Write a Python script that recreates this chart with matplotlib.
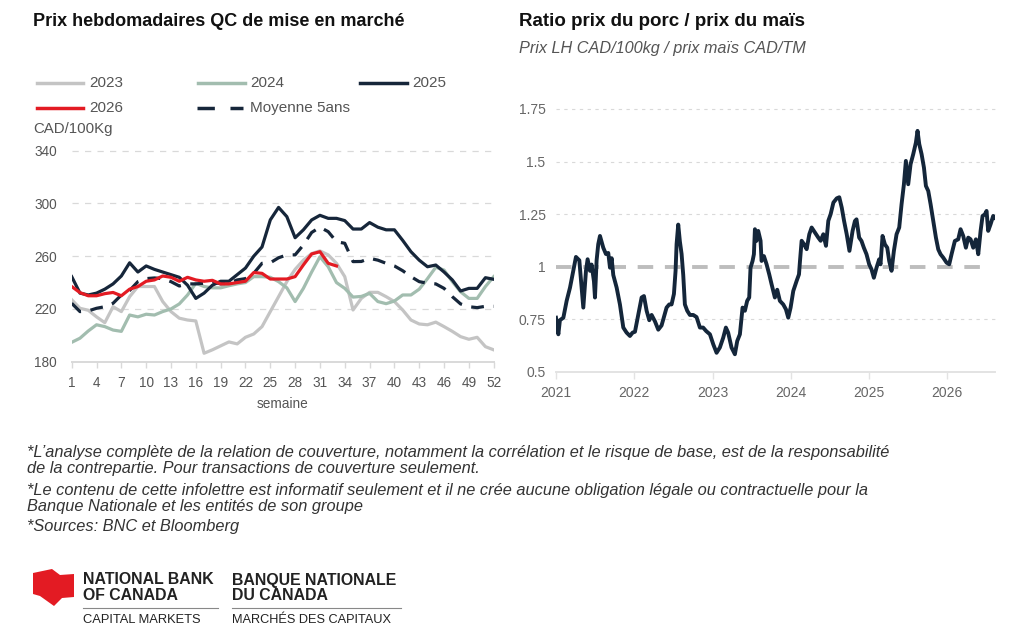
import matplotlib
matplotlib.use("Agg")
import matplotlib.pyplot as plt
from matplotlib.lines import Line2D
from matplotlib.patches import Polygon
from matplotlib import font_manager

# ---------------- data ----------------
weeks = list(range(1, 53))
y2023 = [227, 220.5, 219, 214, 209.6, 221.7, 218, 229.3, 237, 237, 237, 225.6, 218, 213, 211.6, 210.9,
         186.4, 189, 192, 195, 193.5, 198.5, 201, 206.6, 218, 229.3, 240.7, 250, 257, 262, 264, 261,
         254.6, 244.5, 219.2, 228, 232.6, 232.6, 229.3, 225.6, 219.2, 211.6, 208.6, 208, 210, 206.6,
         203, 199, 197, 198.5, 191.4, 189]
y2024 = [194.7, 197.8, 203.3, 208, 206.6, 204, 203, 215.4, 214, 216, 215.4, 218, 220, 223.8, 230.6, 239.5,
         237, 236, 236, 237.6, 239, 240, 244.5, 244.5, 244, 240.7, 236, 225.6, 235.6, 248, 259.6, 252,
         240, 235.6, 229, 229.5, 231.8, 225.6, 224, 226, 230.6, 230.6, 235, 243, 251.6, 249.5, 240.7,
         233, 228, 228, 237, 244.5]
y2025 = [244.5, 232, 230.6, 232, 235, 239, 245, 255, 248, 252.6, 250, 248, 246, 244, 238, 228, 232, 238,
         241, 241, 246, 251, 260, 267, 287.5, 297, 290, 274, 280, 287.5, 291, 288.7, 288.7, 287, 280.6,
         280.6, 285.5, 282, 280, 280, 272, 263.4, 257, 252, 253.3, 248, 242, 233.6, 235.6, 235.6, 243.7,
         242.5]
weeks2026 = list(range(1, 34))
y2026 = [237, 232.4, 230, 230, 231.6, 232.5, 230, 235, 237, 241, 242, 245, 244, 241, 244, 242, 241, 241.7,
         239, 239, 240, 241, 247.6, 247, 242.7, 242.7, 242.7, 244.5, 253.4, 261.7, 263.4, 254.6, 252.6]
moy5 = [224.3, 218, 218.5, 220.5, 221.7, 224.3, 230.6, 234, 240.7, 243, 243.5, 243, 240.7, 237.4, 239, 239,
        239.5, 240.7, 239, 239.5, 242, 243, 247, 254.6, 255, 258.8, 261, 261, 268.5, 278, 282, 278.6, 271,
        269.8, 255.9, 256, 258.4, 257, 254.6, 252.6, 249, 244.5, 240.7, 239.5, 239, 235.6, 229.3, 223.8,
        221.7, 221, 222, 222]

# ratio (decimal year, value), read in three stretches
ratio_t_a = [2021.000, 2021.030, 2021.050, 2021.094, 2021.136, 2021.179, 2021.221, 2021.255, 2021.298, 2021.328,
             2021.349, 2021.383, 2021.404, 2021.434, 2021.455, 2021.485, 2021.498, 2021.519, 2021.540, 2021.562,
             2021.604, 2021.638, 2021.668, 2021.690, 2021.711, 2021.732, 2021.775, 2021.817, 2021.860, 2021.902,
             2021.945, 2021.979, 2022.009, 2022.051, 2022.094, 2022.124, 2022.158, 2022.192, 2022.222, 2022.264,
             2022.307, 2022.349, 2022.413, 2022.447, 2022.477, 2022.507, 2022.528, 2022.541, 2022.562, 2022.583,
             2022.605, 2022.626, 2022.647, 2022.677, 2022.711, 2022.754, 2022.796, 2022.839]
ratio_v_a = [0.757, 0.678, 0.745, 0.757, 0.837, 0.90, 0.98, 1.046, 1.03, 0.90,
             0.805, 0.98, 1.035, 0.98, 1.01, 0.93, 0.853, 1.03, 1.107, 1.146,
             1.09, 1.06, 1.065, 0.995, 1.04, 0.96, 0.90, 0.82, 0.71, 0.686,
             0.67, 0.686, 0.69, 0.77, 0.853, 0.86, 0.79, 0.745, 0.77, 0.74,
             0.70, 0.72, 0.805, 0.82, 0.82, 0.87, 0.98, 1.107, 1.20, 1.12,
             1.06, 0.96, 0.82, 0.79, 0.77, 0.77, 0.76, 0.71]
ratio_t_b = [2022.880, 2022.920, 2022.967, 2023.010, 2023.052, 2023.094, 2023.137, 2023.171, 2023.200, 2023.243,
             2023.286, 2023.316, 2023.350, 2023.384, 2023.414, 2023.443, 2023.469, 2023.486, 2023.512, 2023.529,
             2023.542, 2023.563, 2023.584, 2023.614, 2023.627, 2023.657, 2023.691, 2023.725, 2023.755, 2023.797,
             2023.827, 2023.861, 2023.904, 2023.938, 2023.968, 2023.998, 2024.032, 2024.075, 2024.105, 2024.118,
             2024.139, 2024.169, 2024.203, 2024.237, 2024.267, 2024.310, 2024.352, 2024.382, 2024.416, 2024.450,
             2024.480, 2024.510, 2024.545, 2024.588, 2024.620, 2024.652, 2024.681, 2024.715, 2024.750]
ratio_v_b = [0.71, 0.693, 0.678, 0.63, 0.59, 0.615, 0.662, 0.71, 0.686, 0.615,
             0.583, 0.646, 0.678, 0.805, 0.79, 0.837, 0.853, 0.995, 1.027, 1.059,
             1.178, 1.123, 1.17, 1.123, 1.027, 1.05, 1.011, 0.963, 0.916, 0.853,
             0.89, 0.837, 0.82, 0.797, 0.757, 0.805, 0.884, 0.932, 0.963, 1.027,
             1.123, 1.107, 1.083, 1.154, 1.186, 1.162, 1.138, 1.123, 1.154, 1.099,
             1.218, 1.25, 1.305, 1.325, 1.33, 1.28, 1.218, 1.154, 1.075]
ratio_t_c = [2024.790, 2024.820, 2024.840, 2024.874, 2024.904, 2024.934, 2024.968, 2025.002, 2025.032, 2025.062,
             2025.096, 2025.130, 2025.147, 2025.173, 2025.203, 2025.233, 2025.258, 2025.288, 2025.318, 2025.352,
             2025.386, 2025.416, 2025.446, 2025.471, 2025.501, 2025.531, 2025.565, 2025.599, 2025.620, 2025.642,
             2025.672, 2025.702, 2025.727, 2025.757, 2025.787, 2025.821, 2025.855, 2025.885, 2025.914, 2025.948,
             2025.991, 2026.025, 2026.055, 2026.097, 2026.140, 2026.170, 2026.204, 2026.238, 2026.268, 2026.298,
             2026.332, 2026.366, 2026.396, 2026.426, 2026.451, 2026.481, 2026.502, 2026.523, 2026.553, 2026.587,
             2026.605]
ratio_v_c = [1.17, 1.217, 1.225, 1.138, 1.122, 1.09, 1.059, 1.011, 0.987, 0.947,
             0.995, 1.035, 1.011, 1.146, 1.106, 1.09, 1.027, 0.98, 1.075, 1.154,
             1.186, 1.297, 1.392, 1.503, 1.392, 1.487, 1.535, 1.59, 1.646, 1.583,
             1.535, 1.471, 1.384, 1.36, 1.297, 1.217, 1.138, 1.082, 1.059, 1.043,
             1.019, 1.011, 1.059, 1.122, 1.13, 1.178, 1.146, 1.09, 1.138, 1.13,
             1.09, 1.13, 1.059, 1.17, 1.241, 1.249, 1.265, 1.17, 1.201, 1.241,
             1.233]
ratio_t = ratio_t_a + ratio_t_b + ratio_t_c
ratio_v = ratio_v_a + ratio_v_b + ratio_v_c

left_yticks = [180, 220, 260, 300, 340]
left_xticks = list(range(1, 53, 3))
right_yticks = [0.5, 0.75, 1.0, 1.25, 1.5, 1.75]
right_ytick_labels = ["0.5", "0.75", "1", "1.25", "1.5", "1.75"]
right_xticks = [2021, 2022, 2023, 2024, 2025, 2026]

# ---------------- style ----------------
names = {f.name for f in font_manager.fontManager.ttflist}
BASE = "Liberation Sans" if "Liberation Sans" in names else "DejaVu Sans"
NARROW = "Liberation Sans Narrow" if "Liberation Sans Narrow" in names else BASE
plt.rcParams['font.family'] = [BASE, 'DejaVu Sans']

C23 = "#c4c4c4"
C24 = "#a2bdaf"
C25 = "#16263a"
C26 = "#e31b23"
GRID = "#d9d9d9"
TXT = "#555555"

W, H = 1024, 633
fig = plt.figure(figsize=(W / 100, H / 100), dpi=100)
fig.patch.set_facecolor("white")

def fx(px):
    return px / W

def fy(py):
    return 1 - py / H

# ---------------- left chart ----------------
axL = fig.add_axes([fx(71.7), fy(361.7), fx(493.7 - 71.7), (361.7 - 150.7) / H])
axL.set_xlim(1, 52)
axL.set_ylim(180, 340)
lw = 2.3
axL.plot(weeks, y2023, color=C23, lw=lw, solid_joinstyle="round", zorder=2)
axL.plot(weeks, y2024, color=C24, lw=lw, solid_joinstyle="round", zorder=3)
axL.plot(weeks, moy5, color=C25, lw=lw, dashes=(4, 3), dash_capstyle="butt", zorder=4)
axL.plot(weeks, y2025, color=C25, lw=lw, solid_joinstyle="round", zorder=5)
axL.plot(weeks2026, y2026, color=C26, lw=lw, solid_joinstyle="round", zorder=6)

axL.set_yticks(left_yticks)
axL.set_xticks(left_xticks)
for v in left_yticks[1:]:
    axL.axhline(v, color=GRID, lw=0.9, dashes=(5, 5), zorder=0, clip_on=False)
for s in ["left", "right", "top"]:
    axL.spines[s].set_visible(False)
axL.spines["bottom"].set_color(GRID)
axL.spines["bottom"].set_linewidth(1.4)
axL.tick_params(axis="y", length=0, pad=10.5, labelsize=9.8, labelcolor=TXT)
axL.tick_params(axis="x", length=4, width=1, color=GRID, pad=6, labelsize=9.8, labelcolor=TXT)
axL.set_xlabel("semaine", fontsize=9.8, color=TXT, labelpad=5)

# legend (manual)
def leg_line(x0, x1, y, color, dashed=False):
    kw = dict(color=color, lw=2.5, transform=fig.transFigure)
    if dashed:
        kw["dashes"] = (5, 4.5)
        kw["dash_capstyle"] = "butt"
    fig.add_artist(Line2D([fx(x0), fx(x1)], [fy(y), fy(y)], **kw))

LF = 11
leg_line(37, 83, 83, C23); fig.text(fx(89), fy(83), "2023", fontsize=LF, color=TXT, va="center")
leg_line(198, 245, 83, C24); fig.text(fx(250), fy(83), "2024", fontsize=LF, color=TXT, va="center")
leg_line(360, 407, 83, C25); fig.text(fx(412), fy(83), "2025", fontsize=LF, color=TXT, va="center")
leg_line(37, 83, 108, C26); fig.text(fx(89), fy(108), "2026", fontsize=LF, color=TXT, va="center")
leg_line(197, 243, 108, C25, dashed=True); fig.text(fx(250), fy(108), "Moyenne 5ans", fontsize=LF, color=TXT, va="center")
fig.text(fx(33), fy(129), "CAD/100Kg", fontsize=10.8, color=TXT, va="center")

fig.text(fx(33), fy(22), "Prix hebdomadaires QC de mise en marché", fontsize=13,
         fontweight="bold", color="#111111", va="center")

# ---------------- right chart ----------------
axR = fig.add_axes([fx(556), fy(371.7), fx(995 - 556), (371.7 - 109) / H])
axR.set_xlim(2021, 2026.61)
axR.set_ylim(0.5, 1.75)
for v in [0.75, 1.25, 1.5, 1.75]:
    axR.axhline(v, color=GRID, lw=0.8, dashes=(3, 4), zorder=0, clip_on=False)
axR.hlines(1.0, 2021, 2026.47, color="#bdbdbd", lw=2.8, linestyles=(0, (4, 3)), zorder=1)
axR.plot(ratio_t, ratio_v, color="#14263a", lw=2.8, solid_joinstyle="round", zorder=3)
axR.set_yticks(right_yticks)
axR.set_yticklabels(right_ytick_labels)
axR.set_xticks(right_xticks)
for s in ["left", "right", "top"]:
    axR.spines[s].set_visible(False)
axR.spines["bottom"].set_color("#e3e3e3")
axR.spines["bottom"].set_linewidth(1.4)
axR.tick_params(axis="y", length=0, pad=7.5, labelsize=10, labelcolor="#666666")
axR.tick_params(axis="x", length=5, width=1, color="#e3e3e3", pad=5, labelsize=10, labelcolor="#666666")
for lab in axR.get_xticklabels() + axR.get_yticklabels():
    lab.set_family([NARROW, "DejaVu Sans"])

fig.text(fx(519), fy(22), "Ratio prix du porc / prix du maïs", fontsize=13.5,
         fontweight="bold", color="#111111", va="center")
fig.text(fx(519), fy(49), "Prix LH CAD/100kg / prix maïs CAD/TM", fontsize=11.7,
         fontstyle="italic", color=TXT, va="center")

# ---------------- footer ----------------
foot = [
    (452, "*L’analyse complète de la relation de couverture, notamment la corrélation et le risque de base, est de la responsabilité"),
    (469, "de la contrepartie. Pour transactions de couverture seulement."),
    (490, "*Le contenu de cette infolettre est informatif seulement et il ne crée aucune obligation légale ou contractuelle pour la"),
    (507, "Banque Nationale et les entités de son groupe"),
    (526, "*Sources: BNC et Bloomberg"),
]
for yy, t in foot:
    fig.text(fx(27), fy(yy), t, fontsize=11.8, fontstyle="italic", color="#333333", va="center")

# ---------------- logo ----------------
flag = [(33, 573), (52, 569), (60, 575), (74, 574), (74, 597), (62, 598), (54, 606), (40, 596), (33, 594)]
fig.add_artist(Polygon([(fx(a), fy(b)) for a, b in flag], closed=True, transform=fig.transFigure,
                       facecolor="#e31b23", edgecolor="none"))
LOGO = "#222222"
fig.text(fx(83), fy(580), "NATIONAL BANK", fontsize=11.4, fontweight="bold", color=LOGO, va="center")
fig.text(fx(83), fy(596), "OF CANADA", fontsize=11.4, fontweight="bold", color=LOGO, va="center")
fig.text(fx(83), fy(620), "CAPITAL MARKETS", fontsize=9.3, color=LOGO, va="center")
fig.text(fx(232), fy(580), "BANQUE NATIONALE", fontsize=11.4, fontweight="bold", color=LOGO, va="center")
fig.text(fx(232), fy(596), "DU CANADA", fontsize=11.4, fontweight="bold", color=LOGO, va="center")
fig.text(fx(232), fy(620), "MARCHÉS DES CAPITAUX", fontsize=9.2, color=LOGO, va="center")
fig.add_artist(Line2D([fx(83), fx(218)], [fy(608), fy(608)], color="#888888", lw=0.8, transform=fig.transFigure))
fig.add_artist(Line2D([fx(232), fx(401)], [fy(608), fy(608)], color="#888888", lw=0.8, transform=fig.transFigure))

fig.savefig("out.png", dpi=100, facecolor="white")
